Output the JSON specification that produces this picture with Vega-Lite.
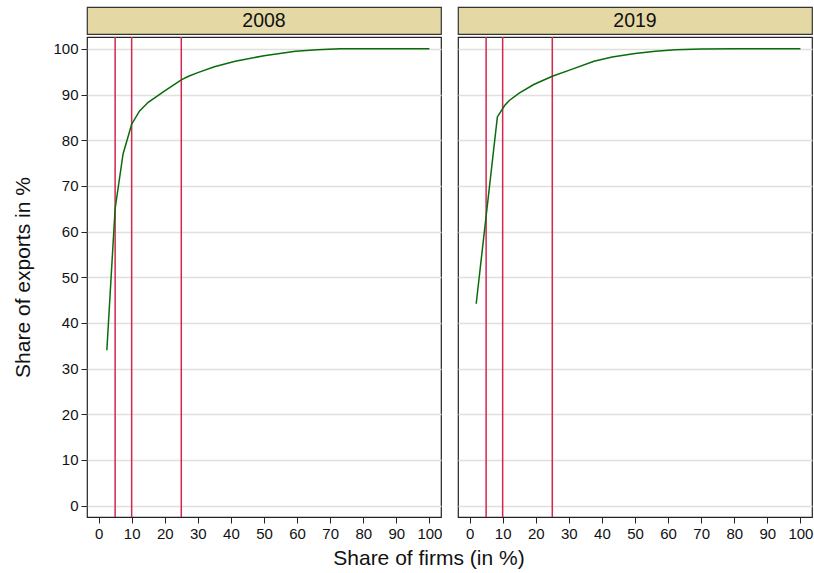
{
  "$schema": "https://vega.github.io/schema/vega-lite/v6.json",
  "padding": {"left": 12, "top": 6, "right": 3, "bottom": 4},
  "background": "white",
  "config": {
    "font": "Liberation Sans",
    "view": {"stroke": "#222", "strokeWidth": 1.2},
    "axis": {"labelFont": "Liberation Sans", "labelFontSize": 15, "labelColor": "#111", "labelOverlap": false, "tickColor": "#222", "tickSize": 6, "domain": false, "titleFont": "Liberation Sans", "titleFontWeight": "normal", "titleColor": "#111", "gridColor": "#e0e0e0", "gridWidth": 1.5}
  },
  "datasets": {
    "curve": [
      {"year": "2008", "share_firms": 2.5, "share_exports": 34.0},
      {"year": "2008", "share_firms": 5, "share_exports": 65.0},
      {"year": "2008", "share_firms": 7.4, "share_exports": 77.0},
      {"year": "2008", "share_firms": 10, "share_exports": 83.5},
      {"year": "2008", "share_firms": 12.4, "share_exports": 86.4},
      {"year": "2008", "share_firms": 15, "share_exports": 88.3},
      {"year": "2008", "share_firms": 20, "share_exports": 90.8},
      {"year": "2008", "share_firms": 25, "share_exports": 93.2},
      {"year": "2008", "share_firms": 27.2, "share_exports": 94.0},
      {"year": "2008", "share_firms": 30, "share_exports": 94.8},
      {"year": "2008", "share_firms": 35, "share_exports": 96.1},
      {"year": "2008", "share_firms": 41.3, "share_exports": 97.3},
      {"year": "2008", "share_firms": 50, "share_exports": 98.5},
      {"year": "2008", "share_firms": 59.5, "share_exports": 99.5},
      {"year": "2008", "share_firms": 66, "share_exports": 99.8},
      {"year": "2008", "share_firms": 73, "share_exports": 100.0},
      {"year": "2008", "share_firms": 85, "share_exports": 100.0},
      {"year": "2008", "share_firms": 100, "share_exports": 100.0},
      {"year": "2019", "share_firms": 2.0, "share_exports": 44.2},
      {"year": "2019", "share_firms": 8.4, "share_exports": 85.1},
      {"year": "2019", "share_firms": 10.6, "share_exports": 87.6},
      {"year": "2019", "share_firms": 12, "share_exports": 88.7},
      {"year": "2019", "share_firms": 15, "share_exports": 90.3},
      {"year": "2019", "share_firms": 19.4, "share_exports": 92.2},
      {"year": "2019", "share_firms": 25, "share_exports": 94.0},
      {"year": "2019", "share_firms": 30, "share_exports": 95.3},
      {"year": "2019", "share_firms": 37.6, "share_exports": 97.3},
      {"year": "2019", "share_firms": 43.1, "share_exports": 98.2},
      {"year": "2019", "share_firms": 50, "share_exports": 99.0},
      {"year": "2019", "share_firms": 56.2, "share_exports": 99.5},
      {"year": "2019", "share_firms": 62.2, "share_exports": 99.8},
      {"year": "2019", "share_firms": 70, "share_exports": 99.95},
      {"year": "2019", "share_firms": 80, "share_exports": 100.0},
      {"year": "2019", "share_firms": 100, "share_exports": 100.0}
    ],
    "cut": [{"cutoff": 5}, {"cutoff": 10}, {"cutoff": 25}],
    "hdr": [{"year": "2008"}, {"year": "2019"}]
  },
  "title": {"text": "Share of firms (in %)", "orient": "bottom", "anchor": "middle", "fontSize": 21, "fontWeight": "normal", "font": "Liberation Sans", "color": "#111", "offset": 6, "dx": 16},
  "spacing": 14,
  "hconcat": [
    {
      "spacing": 0,
      "vconcat": [
        {
          "width": 354, "height": 27,
          "data": {"name": "hdr"},
          "transform": [{"filter": "datum.year == '2008'"}],
          "view": {"fill": "#e4d9a5", "stroke": "#333", "strokeWidth": 1.2},
          "mark": {"type": "text", "fontSize": 19.5, "font": "Liberation Sans", "color": "#111", "baseline": "middle", "align": "center"},
          "encoding": {"text": {"field": "year"}}
        },
        {
          "width": 354, "height": 480,
          "layer": [
            {
              "data": {"name": "cut"},
              "mark": {"type": "rule", "color": "#d0284f", "strokeWidth": 1.5},
              "encoding": {"x": {"field": "cutoff", "type": "quantitative", "scale": {"domain": [-3.5, 103.5], "nice": false, "zero": false}, "axis": {"values": [0,10,20,30,40,50,60,70,80,90,100], "title": null, "grid": false, "labelPadding": 3, "labelOverlap": false, "labelBound": false, "labelFlush": false}}}
            },
            {
              "data": {"name": "curve"},
              "transform": [{"filter": "datum.year == '2008'"}],
              "mark": {"type": "line", "color": "#0b6b0b", "strokeWidth": 1.5},
              "encoding": {
                "x": {"field": "share_firms", "type": "quantitative", "scale": {"domain": [-3.5, 103.5], "nice": false, "zero": false}, "axis": {"values": [0,10,20,30,40,50,60,70,80,90,100], "title": null, "grid": false, "labelPadding": 3, "labelOverlap": false, "labelBound": false, "labelFlush": false}},
                "y": {"field": "share_exports", "type": "quantitative", "scale": {"domain": [-2.5, 102.6], "nice": false, "zero": false}, "axis": {"values": [0,10,20,30,40,50,60,70,80,90,100], "title": "Share of exports in %", "titleFontSize": 21, "titlePadding": 19, "grid": true, "labelPadding": 3, "labelOverlap": false}}
              }
            }
          ]
        }
      ]
    },
    {
      "spacing": 0,
      "vconcat": [
        {
          "width": 354, "height": 27,
          "data": {"name": "hdr"},
          "transform": [{"filter": "datum.year == '2019'"}],
          "view": {"fill": "#e4d9a5", "stroke": "#333", "strokeWidth": 1.2},
          "mark": {"type": "text", "fontSize": 19.5, "font": "Liberation Sans", "color": "#111", "baseline": "middle", "align": "center"},
          "encoding": {"text": {"field": "year"}}
        },
        {
          "width": 354, "height": 480,
          "layer": [
            {
              "data": {"name": "cut"},
              "mark": {"type": "rule", "color": "#d0284f", "strokeWidth": 1.5},
              "encoding": {"x": {"field": "cutoff", "type": "quantitative", "scale": {"domain": [-3.5, 103.5], "nice": false, "zero": false}, "axis": {"values": [0,10,20,30,40,50,60,70,80,90,100], "title": null, "grid": false, "labelPadding": 3, "labelOverlap": false, "labelBound": false, "labelFlush": false}}}
            },
            {
              "data": {"name": "curve"},
              "transform": [{"filter": "datum.year == '2019'"}],
              "mark": {"type": "line", "color": "#0b6b0b", "strokeWidth": 1.5},
              "encoding": {
                "x": {"field": "share_firms", "type": "quantitative", "scale": {"domain": [-3.5, 103.5], "nice": false, "zero": false}, "axis": {"values": [0,10,20,30,40,50,60,70,80,90,100], "title": null, "grid": false, "labelPadding": 3, "labelOverlap": false, "labelBound": false, "labelFlush": false}},
                "y": {"field": "share_exports", "type": "quantitative", "scale": {"domain": [-2.5, 102.6], "nice": false, "zero": false}, "axis": {"values": [0,10,20,30,40,50,60,70,80,90,100], "title": null, "labels": false, "ticks": false, "grid": true}}
              }
            }
          ]
        }
      ]
    }
  ]
}
